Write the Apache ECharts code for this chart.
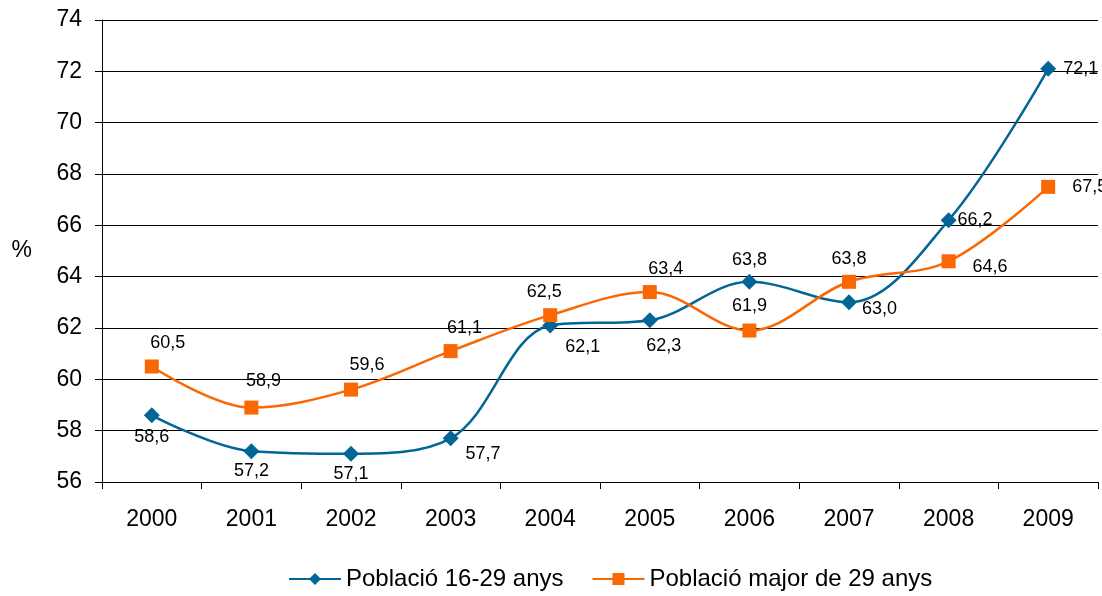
<!DOCTYPE html>
<html>
<head>
<meta charset="utf-8">
<script src="https://cdn.jsdelivr.net/npm/echarts@6/dist/echarts.min.js"></script>
<style>
  html, body { margin: 0; padding: 0; background: #fff; }
  #chart { width: 1102px; height: 596px; }
</style>
</head>
<body>
<div id="chart"></div>
<script>
  // anys
  var years = ['2000', '2001', '2002', '2003', '2004', '2005', '2006', '2007', '2008', '2009'];
  // Població 16-29 anys
  var jove = [58.6, 57.2, 57.1, 57.7, 62.1, 62.3, 63.8, 63.0, 66.2, 72.1];
  // Població major de 29 anys
  var major = [60.5, 58.9, 59.6, 61.1, 62.5, 63.4, 61.9, 63.8, 64.6, 67.5];

  // posició de les etiquetes (com a l'original)
  var joveLbl = [
    ['bottom', [0, 0]], ['bottom', [0, -2]], ['bottom', [0, -2]], ['right', [2, 16]],
    ['right', [2, 22]], ['bottom', [14, 4]], ['top', [0, 0]], ['right', [0, 7]],
    ['right', [-4, 0]], ['right', [2, 0]]
  ];
  var majorLbl = [
    ['top', [16, -2]], ['top', [12, -6]], ['top', [16, -4]], ['top', [14, -2]],
    ['top', [-6, -2]], ['top', [16, -2]], ['top', [0, -4]], ['top', [0, -2]],
    ['right', [12, 6]], ['right', [12, 0]]
  ];

  function build(vals, lbl) {
    return vals.map(function (v, i) {
      return {value: v, label: {position: lbl[i][0], offset: lbl[i][1]}};
    });
  }

  var font = '"Liberation Sans", Arial, sans-serif';
  var chart = echarts.init(document.getElementById('chart'));
  chart.setOption({
    animation: false,
    grid: {left: 102, right: 4, top: 20, bottom: 114},
    legend: {
      bottom: 0,
      left: 283,
      itemWidth: 52,
      itemHeight: 15,
      itemGap: 28,
      textStyle: {fontFamily: font, fontSize: 24, color: '#000'},
      data: ['Població 16-29 anys', 'Població major de 29 anys']
    },
    xAxis: {
      type: 'category',
      data: years,
      boundaryGap: true,
      axisLine: {lineStyle: {color: '#000', width: 1}},
      axisTick: {show: true, length: 7, lineStyle: {color: '#000'}},
      axisLabel: {fontFamily: font, fontSize: 23, color: '#000', margin: 26}
    },
    yAxis: {
      type: 'value',
      min: 56,
      max: 74,
      interval: 2,
      name: '%',
      nameLocation: 'middle',
      nameRotate: 0,
      nameGap: 70,
      nameTextStyle: {fontFamily: font, fontSize: 23, color: '#000'},
      axisLine: {show: true, lineStyle: {color: '#000', width: 1}},
      axisTick: {show: true, length: 7, lineStyle: {color: '#000'}},
      axisLabel: {fontFamily: font, fontSize: 23, color: '#000', margin: 20},
      splitLine: {lineStyle: {color: '#000', width: 1}}
    },
    series: [
      {
        name: 'Població 16-29 anys',
        type: 'line',
        smooth: 0.35,
        data: build(jove, joveLbl),
        symbol: 'diamond',
        symbolSize: 16,
        itemStyle: {color: '#036596'},
        lineStyle: {color: '#036596', width: 2.5},
        label: {show: true, fontFamily: font, fontSize: 18, color: '#000',
          formatter: function (p) { return p.value.toFixed(1).replace('.', ','); }}
      },
      {
        name: 'Població major de 29 anys',
        type: 'line',
        smooth: 0.35,
        data: build(major, majorLbl),
        symbol: 'rect',
        symbolSize: 14,
        itemStyle: {color: '#fb6702'},
        lineStyle: {color: '#fb6702', width: 2.5},
        label: {show: true, fontFamily: font, fontSize: 18, color: '#000',
          formatter: function (p) { return p.value.toFixed(1).replace('.', ','); }}
      }
    ]
  });
</script>
</body>
</html>
